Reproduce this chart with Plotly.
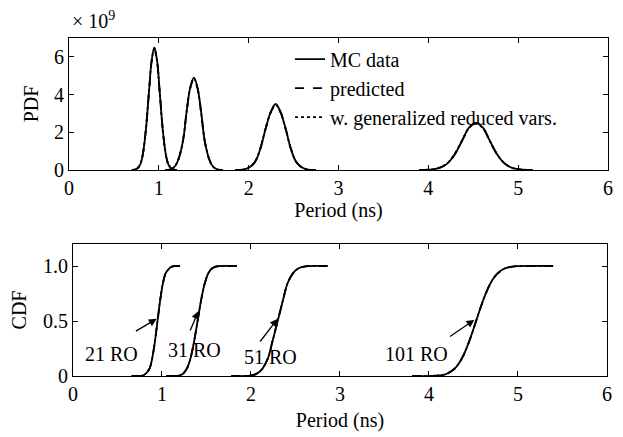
import plotly.graph_objects as go

# PDF samples (units of 1e9), one list per ring-oscillator peak
pdf_x_21 = [0.70, 0.75, 0.79, 0.82, 0.855, 0.89, 0.92, 0.95, 0.98, 1.01, 1.045, 1.08, 1.11, 1.15, 1.20]
pdf_x_31 = [1.07, 1.13, 1.18, 1.22, 1.27, 1.31, 1.35, 1.39, 1.43, 1.47, 1.51, 1.56, 1.60, 1.65, 1.71]
pdf_x_51 = [1.85, 1.94, 2.01, 2.07, 2.13, 2.19, 2.25, 2.30, 2.35, 2.41, 2.47, 2.53, 2.59, 2.66, 2.75]
pdf_x_101 = [3.90, 4.02, 4.12, 4.20, 4.29, 4.38, 4.45, 4.53, 4.61, 4.68, 4.77, 4.86, 4.94, 5.04, 5.16]

mc_pdf_21 = [0.0, 0.04, 0.26, 0.77, 2.08, 4.13, 5.81, 6.50, 5.81, 4.13, 2.08, 0.77, 0.26, 0.04, 0.0]
mc_pdf_31 = [0.0, 0.03, 0.20, 0.58, 1.57, 3.11, 4.38, 4.90, 4.38, 3.11, 1.57, 0.58, 0.20, 0.03, 0.0]
mc_pdf_51 = [0.0, 0.02, 0.14, 0.42, 1.12, 2.22, 3.13, 3.50, 3.13, 2.22, 1.12, 0.42, 0.14, 0.02, 0.0]
mc_pdf_101 = [0.0, 0.02, 0.10, 0.30, 0.80, 1.59, 2.23, 2.50, 2.23, 1.59, 0.80, 0.30, 0.10, 0.02, 0.0]

pred_pdf_21 = [0.0, 0.05, 0.28, 0.80, 2.10, 4.10, 5.75, 6.42, 5.78, 4.12, 2.06, 0.75, 0.25, 0.04, 0.0]
pred_pdf_31 = [0.0, 0.03, 0.21, 0.60, 1.60, 3.12, 4.34, 4.84, 4.35, 3.10, 1.55, 0.57, 0.19, 0.03, 0.0]
pred_pdf_51 = [0.0, 0.02, 0.15, 0.44, 1.14, 2.22, 3.10, 3.46, 3.12, 2.23, 1.13, 0.43, 0.14, 0.02, 0.0]
pred_pdf_101 = [0.0, 0.02, 0.11, 0.31, 0.81, 1.60, 2.22, 2.48, 2.22, 1.58, 0.80, 0.31, 0.10, 0.02, 0.0]

gen_pdf_21 = [0.0, 0.05, 0.27, 0.79, 2.12, 4.15, 5.78, 6.45, 5.76, 4.08, 2.05, 0.76, 0.26, 0.04, 0.0]
gen_pdf_31 = [0.0, 0.03, 0.21, 0.59, 1.59, 3.14, 4.36, 4.86, 4.33, 3.08, 1.56, 0.58, 0.20, 0.03, 0.0]
gen_pdf_51 = [0.0, 0.02, 0.15, 0.43, 1.15, 2.24, 3.11, 3.45, 3.10, 2.20, 1.11, 0.42, 0.14, 0.02, 0.0]
gen_pdf_101 = [0.0, 0.02, 0.11, 0.31, 0.82, 1.61, 2.21, 2.46, 2.21, 1.58, 0.79, 0.30, 0.10, 0.02, 0.0]

# CDF samples
cdf_x_21 = [0.66, 0.76, 0.79, 0.82, 0.86, 0.89, 0.92, 0.95, 0.98, 1.01, 1.04, 1.08, 1.11, 1.14, 1.20]
cdf_x_31 = [1.05, 1.16, 1.20, 1.24, 1.28, 1.32, 1.36, 1.40, 1.44, 1.48, 1.52, 1.56, 1.60, 1.64, 1.80]
cdf_x_51 = [1.78, 1.96, 2.02, 2.07, 2.13, 2.19, 2.24, 2.30, 2.36, 2.41, 2.47, 2.53, 2.59, 2.64, 2.82]
cdf_x_101 = [3.81, 4.05, 4.13, 4.21, 4.29, 4.37, 4.45, 4.53, 4.61, 4.69, 4.77, 4.85, 4.93, 5.01, 5.35]
cdf_vals = [0.0, 0.001, 0.006, 0.023, 0.067, 0.159, 0.309, 0.5, 0.691, 0.841, 0.933, 0.977, 0.994, 0.999, 1.0]
pred_cdf_vals = [0.0, 0.002, 0.008, 0.026, 0.070, 0.162, 0.312, 0.5, 0.688, 0.838, 0.930, 0.975, 0.993, 0.999, 1.0]
# predicted curves run a bit further out along the plateau
pred_cdf_end = [1.29, 1.89, 2.90, 5.45]

ro_labels = ["21 RO", "31 RO", "51 RO", "101 RO"]
label_pos = [(0.43, 0.20), (1.37, 0.24), (2.22, 0.17), (3.86, 0.20)]
arrow_tail = [(0.69, 0.40), (1.31, 0.40), (2.09, 0.30), (4.22, 0.35)]
arrow_head = [(0.94, 0.52), (1.41, 0.59), (2.30, 0.52), (4.51, 0.51)]

x_ticks = [0, 1, 2, 3, 4, 5, 6]
pdf_ticks = [0, 2, 4, 6]
cdf_ticks = [0, 0.5, 1.0]
cdf_tick_text = ["0", "0.5", "1.0"]


def join(parts):
    out = []
    for p in parts:
        out += list(p) + [None]
    return out[:-1]


fnt = "Liberation Serif"
fig = go.Figure()

pdf_xs = join([pdf_x_21, pdf_x_31, pdf_x_51, pdf_x_101])
for name, ys, dash in [
    ("MC data", join([mc_pdf_21, mc_pdf_31, mc_pdf_51, mc_pdf_101]), "solid"),
    ("predicted", join([pred_pdf_21, pred_pdf_31, pred_pdf_51, pred_pdf_101]), "dash"),
    ("w. generalized reduced vars.", join([gen_pdf_21, gen_pdf_31, gen_pdf_51, gen_pdf_101]), "dot"),
]:
    fig.add_trace(go.Scatter(x=pdf_xs, y=ys, mode="lines", name=name,
                             line=dict(color="black", width=1.8, dash=dash, shape="spline"),
                             xaxis="x", yaxis="y"))

cdf_xs_all = [cdf_x_21, cdf_x_31, cdf_x_51, cdf_x_101]
mc_x = join(cdf_xs_all)
mc_y = join([cdf_vals] * 4)
pred_x = join([xs + [e] for xs, e in zip(cdf_xs_all, pred_cdf_end)])
pred_y = join([pred_cdf_vals + [1.0]] * 4)
fig.add_trace(go.Scatter(x=mc_x, y=mc_y, mode="lines", showlegend=False,
                         line=dict(color="black", width=1.8, shape="spline"), xaxis="x2", yaxis="y2"))
fig.add_trace(go.Scatter(x=pred_x, y=pred_y, mode="lines", showlegend=False,
                         line=dict(color="black", width=1.8, dash="dash", shape="spline"), xaxis="x2", yaxis="y2"))
fig.add_trace(go.Scatter(x=mc_x, y=mc_y, mode="lines", showlegend=False,
                         line=dict(color="black", width=1.5, dash="dot", shape="spline"), xaxis="x2", yaxis="y2"))

anns = [dict(text="× 10<sup>9</sup>", xref="paper", yref="paper", x=0.002, y=1.0, yshift=4,
             xanchor="left", yanchor="bottom", showarrow=False, font=dict(family=fnt, size=20))]
for lab, (tx, ty), (ax, ay), (hx, hy) in zip(ro_labels, label_pos, arrow_tail, arrow_head):
    anns.append(dict(text=lab, x=tx, y=ty, xref="x2", yref="y2", showarrow=False,
                     font=dict(family=fnt, size=20)))
    anns.append(dict(text="", x=hx, y=hy, ax=ax, ay=ay, xref="x2", yref="y2", axref="x2", ayref="y2",
                     showarrow=True, arrowhead=2, arrowsize=1.2, arrowwidth=1.3, arrowcolor="black"))

axis_common = dict(showline=True, linecolor="black", linewidth=1, mirror="ticks", ticks="inside",
                   ticklen=5, tickcolor="black", showgrid=False, zeroline=False, automargin=False,
                   tickfont=dict(family=fnt, size=20, color="black"))

# page body has an 8px margin, so the figure is sized/offset to land where the reference sits
fig.update_layout(
    width=615, height=429,
    margin=dict(l=61, r=15, t=30, b=61),
    paper_bgcolor="white", plot_bgcolor="white",
    font=dict(family=fnt, size=20, color="black"),
    showlegend=True,
    legend=dict(x=0.41, y=0.995, xanchor="left", yanchor="top", bgcolor="rgba(0,0,0,0)",
                font=dict(family=fnt, size=20), tracegroupgap=0, itemwidth=30),
    xaxis=dict(axis_common, domain=[0, 1], range=[0, 6], tickvals=x_ticks, anchor="y",
               title=dict(text="Period (ns)", standoff=0, font=dict(family=fnt, size=20))),
    yaxis=dict(axis_common, domain=[0.6095, 1], range=[0, 7], tickvals=pdf_ticks, anchor="x",
               title=dict(text="PDF", standoff=9, font=dict(family=fnt, size=20))),
    xaxis2=dict(axis_common, domain=[0.0074, 0.998], range=[0, 6], tickvals=x_ticks, anchor="y2",
                title=dict(text="Period (ns)", standoff=8, font=dict(family=fnt, size=20))),
    yaxis2=dict(axis_common, domain=[0, 0.3905], range=[0, 1.2], tickvals=cdf_ticks,
                ticktext=cdf_tick_text, anchor="x2",
                title=dict(text="CDF", standoff=11, font=dict(family=fnt, size=20))),
    annotations=anns,
)

fig.write_html("out.html")
